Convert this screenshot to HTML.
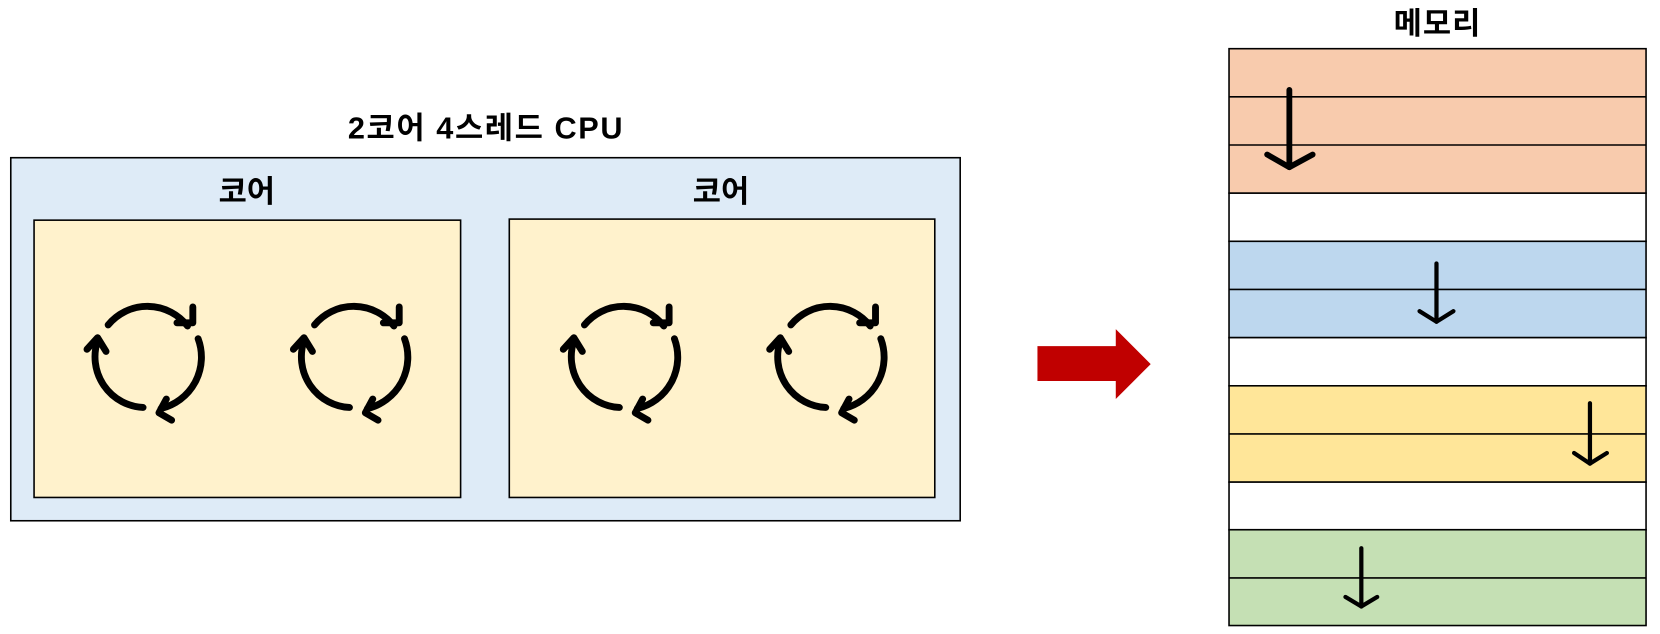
<!DOCTYPE html>
<html><head><meta charset="utf-8"><style>html,body{margin:0;padding:0;background:#fff}svg{display:block}</style></head>
<body>
<svg width="1660" height="634" viewBox="0 0 1568 599" xmlns="http://www.w3.org/2000/svg" font-family="'Liberation Sans','Noto Sans CJK KR',sans-serif" font-weight="bold">
<defs>
<g id="ic" fill="none" stroke="#000" stroke-width="6.5" stroke-linecap="round" stroke-linejoin="round">
<path d="M -35 -33 A 48 48 0 0 1 40 -32"/>
<path d="M 45 -50 L 45 -35 L 30 -35"/>
<path d="M 50 -20 A 50 50 0 0 1 15 46"/>
<path d="M 20 37 L 13 50 L 25 57"/>
<path d="M -2 45 A 48 48 0 0 1 -45 -18"/>
<path d="M -55 -10 L -45 -21 L -37 -8"/>
</g>
</defs>
<text x="459" y="131" font-size="29" text-anchor="middle" letter-spacing="1.5">2코어 4스레드 CPU</text>
<rect x="10" y="149" width="897" height="343" fill="#deebf7" stroke="#000" stroke-width="1.5"/>
<text x="233" y="191" font-size="29" text-anchor="middle">코어</text>
<text x="681" y="191" font-size="29" text-anchor="middle">코어</text>
<rect x="32" y="208" width="403" height="262" fill="#fff2cc" stroke="#000" stroke-width="1.5"/>
<rect x="481" y="207" width="402" height="263" fill="#fff2cc" stroke="#000" stroke-width="1.5"/>
<use href="#ic" x="137" y="340"/>
<use href="#ic" x="332" y="340"/>
<use href="#ic" x="587" y="340"/>
<use href="#ic" x="782" y="340"/>
<polygon points="980,327 1054,327 1054,311 1087,344 1054,377 1054,360 980,360" fill="#c00000"/>
<text x="1358" y="32" font-size="29" text-anchor="middle" letter-spacing="1">메모리</text>
<g stroke="#000" stroke-width="1.5">
<rect x="1161" y="46" width="394" height="136.5" fill="#f8cbad"/>
<rect x="1161" y="182.5" width="394" height="45.5" fill="#fff"/>
<rect x="1161" y="228" width="394" height="91" fill="#bdd7ee"/>
<rect x="1161" y="319" width="394" height="45.5" fill="#fff"/>
<rect x="1161" y="364.5" width="394" height="91" fill="#ffe699"/>
<rect x="1161" y="455.5" width="394" height="45" fill="#fff"/>
<rect x="1161" y="500.5" width="394" height="90.5" fill="#c5e0b4"/>
<line x1="1161" y1="91.5" x2="1555" y2="91.5"/>
<line x1="1161" y1="137" x2="1555" y2="137"/>
<line x1="1161" y1="273.5" x2="1555" y2="273.5"/>
<line x1="1161" y1="410" x2="1555" y2="410"/>
<line x1="1161" y1="546" x2="1555" y2="546"/>
</g>
<g fill="none" stroke="#000" stroke-linecap="round" stroke-linejoin="round">
<g stroke-width="5.5"><path d="M1218 85 L1218 158"/><path d="M1197 146 L1218 158 L1240 146"/></g>
<g stroke-width="4"><path d="M1357 249 L1357 304"/><path d="M1341 294 L1357 304 L1373 294"/></g>
<g stroke-width="4"><path d="M1502 381 L1502 438"/><path d="M1487 428 L1502 438 L1518 428"/></g>
<g stroke-width="4"><path d="M1286 518 L1286 573"/><path d="M1271 564 L1286 573 L1301 564"/></g>
</g>
</svg>
</body></html>
